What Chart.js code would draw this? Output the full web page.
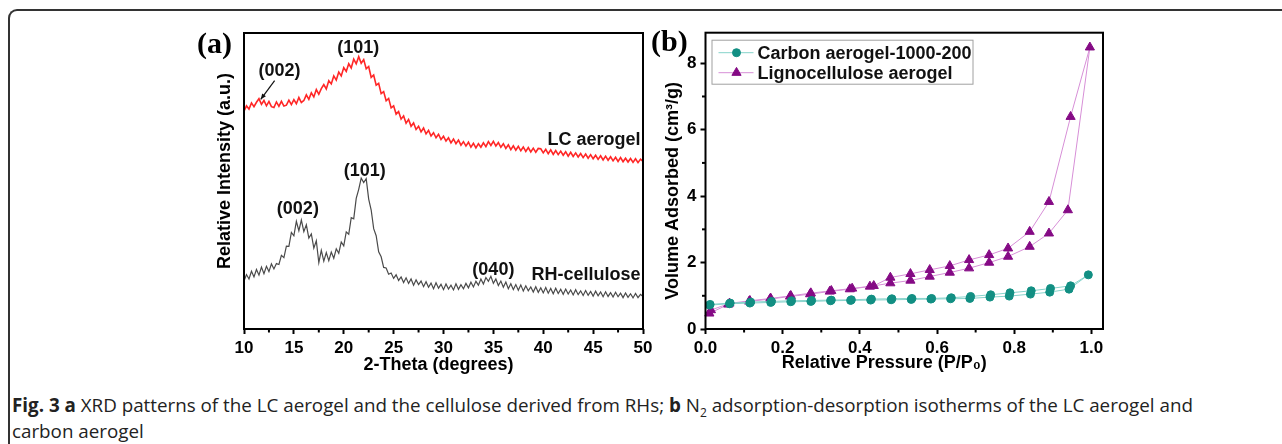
<!DOCTYPE html>
<html>
<head>
<meta charset="utf-8">
<script src="https://cdn.jsdelivr.net/npm/chart.js@4.4.1/dist/chart.umd.min.js"></script>
<style>
  html, body { margin: 0; padding: 0; background: #fff; }
  body { width: 1282px; height: 444px; position: relative; overflow: hidden; }
  #frame { position: absolute; left: 8px; top: 9px; width: 1300px; height: 500px;
           border-left: 2px solid #333; border-top: 2px solid #333; border-top-left-radius: 9px; }
  .panel { position: absolute; top: 0; width: 480px; height: 385px; }
  #wrapA { left: 180px; }
  #wrapB { left: 640px; }
  .tag { position: absolute; font-family: "Liberation Serif", "Times New Roman", serif;
         font-weight: bold; font-size: 30px; line-height: 30px; color: #000; }
  #caption { position: absolute; left: 12px; top: 392px; font-family: "Open Sans", sans-serif;
             font-size: 18.8px; line-height: 26px; color: #222; white-space: nowrap; }
  #caption sub { font-size: 12px; line-height: 0; }
</style>
</head>
<body>
<div id="frame"></div>
<div class="panel" id="wrapA"><canvas id="xrd"></canvas></div>
<div class="panel" id="wrapB"><canvas id="bet"></canvas></div>
<div class="tag" style="left:197px; top:28px;">(a)</div>
<div class="tag" style="left:651px; top:26px;">(b)</div>
<div id="caption"><b>Fig. 3 a</b> XRD patterns of the LC aerogel and the cellulose derived from RHs; <b>b</b> N<sub>2</sub> adsorption-desorption isotherms of the LC aerogel and<br>carbon aerogel</div>
<script>
//XRD patterns (a) - 2-theta in degrees, intensities in arbitrary units
const twoTheta = [10,10.25,10.5,10.75,11,11.25,11.5,11.75,12,12.25,12.5,12.75,13,13.25,13.5,13.75,14,14.25,14.5,14.75,15,15.25,15.5,15.75,16,16.25,16.5,16.75,17,17.25,17.5,17.75,18,18.25,18.5,18.75,19,19.25,19.5,19.75,20,20.25,20.5,20.75,21,21.25,21.5,21.75,22,22.25,22.5,22.75,23,23.25,23.5,23.75,24,24.25,24.5,24.75,25,25.25,25.5,25.75,26,26.25,26.5,26.75,27,27.25,27.5,27.75,28,28.25,28.5,28.75,29,29.25,29.5,29.75,30,30.25,30.5,30.75,31,31.25,31.5,31.75,32,32.25,32.5,32.75,33,33.25,33.5,33.75,34,34.25,34.5,34.75,35,35.25,35.5,35.75,36,36.25,36.5,36.75,37,37.25,37.5,37.75,38,38.25,38.5,38.75,39,39.25,39.5,39.75,40,40.25,40.5,40.75,41,41.25,41.5,41.75,42,42.25,42.5,42.75,43,43.25,43.5,43.75,44,44.25,44.5,44.75,45,45.25,45.5,45.75,46,46.25,46.5,46.75,47,47.25,47.5,47.75,48,48.25,48.5,48.75,49,49.25,49.5,49.75,50];
const lcAerogel = [
    73.6,75.4,74.3,76.4,75.1,76.6,77.8,75.9,77.2,75.4,76.9,75.1,
    74.8,76.7,75.2,76.9,75.3,75.6,77.3,75.8,77.5,76.1,78.2,76.5,
    77.2,79.1,77.6,79.8,78.4,80.9,79.3,81.2,82.6,81.1,83.9,82.8,
    85.5,84.1,86.8,85.5,88.3,87.0,89.6,88.2,91.2,89.6,92.0,89.8,
    91.0,87.9,88.7,85.0,85.8,82.4,83.0,79.5,80.2,77.1,77.9,74.7,
    75.4,72.6,73.5,70.9,72.0,69.5,70.8,68.5,69.6,67.4,68.5,66.6,
    67.9,65.9,67.1,65.2,66.3,64.6,65.8,64.0,65.1,63.5,64.6,62.9,
    64.2,62.6,63.8,62.1,63.3,61.8,63.1,61.4,62.7,61.2,62.6,61.4,
    62.9,61.6,63.3,62.0,63.4,61.8,63.0,61.4,62.6,61.0,62.2,60.6,
    61.9,60.4,61.7,60.2,61.5,60.0,61.3,59.8,61.1,59.7,61.0,60.9,
    59.5,60.7,59.2,60.5,59.0,60.3,58.9,60.1,58.7,59.9,58.4,59.7,
    58.3,59.5,58.1,59.3,57.9,59.1,57.7,58.9,57.5,58.7,57.3,58.5,
    57.1,58.4,57.0,58.2,56.8,58.0,56.6,57.9,56.5,57.7,56.4,57.6,
    56.3,57.5,56.2,57.4,56.6
];
const rhCellulose = [
    16.2,18.4,16.9,19.5,17.6,20.1,18.2,20.9,18.7,21.2,19.4,22.0,
    20.3,22.1,21.8,24.9,24.1,28.0,27.9,32.6,31.5,36.4,33.2,36.8,
    32.9,35.2,30.7,32.1,27.3,29.8,22.4,26.6,22.9,25.8,23.1,26.0,
    23.9,27.1,25.6,29.4,28.1,32.8,32.0,37.6,37.2,44.1,47.2,51.0,
    49.5,50.8,43.9,40.2,33.9,31.5,26.1,24.4,20.8,20.6,18.5,18.9,
    17.1,18.3,16.4,17.6,15.7,17.3,15.4,16.9,14.8,16.6,15.0,16.2,
    14.3,16.0,14.1,15.5,13.6,15.6,13.8,15.1,13.3,15.2,13.5,14.8,
    13.2,15.3,13.4,15.0,13.6,15.4,13.9,15.8,14.2,16.1,14.8,16.9,
    15.2,17.4,16.1,17.8,15.4,16.9,14.7,16.2,14.1,15.9,13.6,15.3,
    13.3,15.0,13.1,14.9,12.8,14.6,12.9,14.2,12.5,14.3,12.4,13.9,
    12.2,14.0,12.1,13.7,11.9,13.8,12.0,13.4,11.7,13.5,11.8,13.2,
    11.5,13.3,11.6,12.9,11.3,13.0,11.4,12.7,11.1,12.8,11.2,12.5,
    10.9,12.6,11.0,12.3,10.8,12.4,10.9,12.1,10.6,12.2,10.7,11.9,
    10.5,12.0,10.6,11.7,11.0
];
const xrdMinorTicks = [12.5, 17.5, 22.5, 27.5, 32.5, 37.5, 42.5, 47.5];

//N2 isotherms (b) - adsorption branch first, then desorption branch
const carbonPressure = [0.010,0.062,0.115,0.169,0.221,0.273,0.324,0.376,0.428,0.481,0.533,0.584,0.635,0.685,0.737,0.787,0.842,0.892,0.942,0.992,
                        0.946,0.894,0.844,0.789,0.739,0.687,0.637,0.586,0.535,0.483,0.430,0.378,0.326,0.275,0.223,0.171,0.117,0.064,0.012];
const carbonVolume = [0.72,0.76,0.78,0.80,0.82,0.83,0.85,0.86,0.87,0.88,0.89,0.90,0.91,0.92,0.96,0.99,1.05,1.11,1.20,1.63,
                      1.30,1.22,1.15,1.09,1.03,0.98,0.94,0.92,0.92,0.91,0.90,0.88,0.87,0.86,0.85,0.83,0.81,0.78,0.74];
const lignoPressure = [0.010,0.059,0.113,0.167,0.219,0.271,0.322,0.374,0.426,0.479,0.531,0.581,0.633,0.683,0.735,0.784,0.840,0.890,0.939,0.996,
                       0.946,0.890,0.840,0.784,0.735,0.683,0.633,0.581,0.531,0.479,0.436,0.380,0.326,0.273,0.221,0.169,0.115,0.062,0.014];
const lignoVolume = [0.47,0.74,0.83,0.90,0.98,1.05,1.13,1.20,1.28,1.38,1.46,1.58,1.70,1.83,2.00,2.18,2.48,2.88,3.58,8.48,
                     6.39,3.83,2.93,2.43,2.23,2.08,1.90,1.78,1.66,1.55,1.30,1.22,1.15,1.08,1.00,0.92,0.85,0.77,0.57];
const pressureTicks = [0, 0.2, 0.4, 0.6, 0.8, 1.0];
const pressureMinorTicks = [0.1, 0.3, 0.5, 0.7, 0.9];
const volumeTicks = [0, 2, 4, 6, 8];
const volumeMinorTicks = [1, 3, 5, 7];

//Peak and curve labels for (a), placed in data units
const xrdLabels = [
    {text: '(002)', x: 13.55, y: 87.0, align: 'center'},
    {text: '(101)', x: 21.45, y: 94.8, align: 'center'},
    {text: 'LC aerogel', x: 49.75, y: 63.7, align: 'right'},
    {text: '(101)', x: 22.1, y: 53.5, align: 'center'},
    {text: '(002)', x: 15.4, y: 40.4, align: 'center'},
    {text: '(040)', x: 35.0, y: 19.9, align: 'center'},
    {text: 'RH-cellulose', x: 49.75, y: 18.1, align: 'right'}
];

Chart.defaults.font.family = '"Liberation Sans", Arial, sans-serif';
Chart.defaults.font.weight = 'bold';
Chart.defaults.color = '#000';
Chart.defaults.animation = false;

const tickFont = {size: 17, weight: 'bold'};
const titleFont = {size: 18, weight: 'bold'};
const nb = '\u00a0';

//Draws the closed box round the plot area plus the short minor ticks
const framePlugin = {
    id: 'frame',
    afterDraw(chart, args, opts) {
        const {ctx, chartArea: a, scales} = chart;
        ctx.save();
        ctx.strokeStyle = '#000';
        ctx.lineWidth = 2;
        ctx.strokeRect(a.left, a.top, a.right - a.left, a.bottom - a.top);
        (opts.xMinor || []).forEach(v => {
            const px = scales.x.getPixelForValue(v);
            ctx.beginPath(); ctx.moveTo(px, a.bottom); ctx.lineTo(px, a.bottom + 3.5); ctx.stroke();
        });
        (opts.yMinor || []).forEach(v => {
            const py = scales.y.getPixelForValue(v);
            ctx.beginPath(); ctx.moveTo(a.left, py); ctx.lineTo(a.left - 3.5, py); ctx.stroke();
        });
        ctx.restore();
    }
};

//Peak labels and the little arrow for (a)
const labelPlugin = {
    id: 'xrdLabels',
    afterDatasetsDraw(chart) {
        const {ctx, scales: {x, y}} = chart;
        ctx.save();
        ctx.fillStyle = '#111';
        ctx.font = 'bold 18px "Liberation Sans", Arial, sans-serif';
        ctx.textBaseline = 'middle';
        xrdLabels.forEach(l => {
            ctx.textAlign = l.align;
            ctx.fillText(l.text, x.getPixelForValue(l.x), y.getPixelForValue(l.y));
        });
        const x1 = x.getPixelForValue(13.07), y1 = y.getPixelForValue(83.9);
        const x2 = x.getPixelForValue(11.68), y2 = y.getPixelForValue(77.6);
        ctx.strokeStyle = '#111';
        ctx.lineWidth = 1.2;
        ctx.beginPath(); ctx.moveTo(x1, y1); ctx.lineTo(x2, y2); ctx.stroke();
        const ang = Math.atan2(y2 - y1, x2 - x1);
        ctx.beginPath();
        ctx.moveTo(x2, y2);
        ctx.lineTo(x2 - 6 * Math.cos(ang - 0.4), y2 - 6 * Math.sin(ang - 0.4));
        ctx.lineTo(x2 - 6 * Math.cos(ang + 0.4), y2 - 6 * Math.sin(ang + 0.4));
        ctx.closePath(); ctx.fill();
        ctx.restore();
    }
};

//Boxed legend inside the plot of (b)
const legendPlugin = {
    id: 'boxLegend',
    afterDraw(chart) {
        const {ctx, chartArea: a} = chart;
        const x0 = a.left + 6, y0 = a.top + 7;
        ctx.save();
        ctx.fillStyle = '#fff';
        ctx.fillRect(x0, y0, 261, 44);
        ctx.strokeStyle = '#a0a0a0';
        ctx.lineWidth = 1;
        ctx.strokeRect(x0 + 0.5, y0 + 0.5, 261, 44);
        chart.data.datasets.forEach((ds, i) => {
            const yy = y0 + 13 + i * 20;
            ctx.strokeStyle = ds.borderColor;
            ctx.lineWidth = 1;
            ctx.beginPath(); ctx.moveTo(x0 + 7, yy); ctx.lineTo(x0 + 42, yy); ctx.stroke();
            ctx.fillStyle = ds.pointBackgroundColor;
            ctx.strokeStyle = ds.pointBorderColor;
            Chart.helpers.drawPoint(ctx, {pointStyle: ds.pointStyle, radius: ds.pointRadius, rotation: 0, borderWidth: 1}, x0 + 25, yy);
            ctx.fillStyle = '#111';
            ctx.font = 'bold 18px "Liberation Sans", Arial, sans-serif';
            ctx.textAlign = 'left';
            ctx.textBaseline = 'middle';
            ctx.fillText(ds.label, x0 + 46, yy + 1);
        });
        ctx.restore();
    }
};

function axisTitle(text, padding) {
    return {display: true, text: text, font: titleFont, color: '#000', padding: padding};
}

new Chart(document.getElementById('xrd').getContext('2d'), {
    type: 'scatter',
    data: {
        datasets: [
            {label: 'LC aerogel', data: twoTheta.map((t, i) => ({x: t, y: lcAerogel[i]})),
             showLine: true, borderColor: '#ff2626', borderWidth: 1.6, pointRadius: 0, tension: 0},
            {label: 'RH-cellulose', data: twoTheta.map((t, i) => ({x: t, y: rhCellulose[i]})),
             showLine: true, borderColor: '#4a4a4a', borderWidth: 1.2, pointRadius: 0, tension: 0}
        ]
    },
    options: {
        responsive: true,
        maintainAspectRatio: false,
        layout: {padding: {left: 0, right: 17, top: 33, bottom: 0}},
        plugins: {legend: {display: false}, tooltip: {enabled: false}, frame: {xMinor: xrdMinorTicks}},
        scales: {
            x: {
                type: 'linear', min: 10, max: 50,
                ticks: {stepSize: 5, padding: 4, font: tickFont, color: '#000', maxRotation: 0},
                grid: {drawOnChartArea: false, tickLength: 5, tickWidth: 2, tickColor: '#000'},
                border: {display: false},
                title: axisTitle('2-Theta (degrees)' + nb.repeat(2), {top: 0, bottom: 9}),
                afterFit(s) { s.height = 56; }
            },
            y: {
                min: 0, max: 100,
                ticks: {display: false},
                grid: {display: false},
                border: {display: false},
                title: axisTitle(nb.repeat(4) + 'Relative Intensity (a.u.)', {top: 34, bottom: 0}),
                afterFit(s) { s.width = 64; }
            }
        }
    },
    plugins: [framePlugin, labelPlugin]
});

new Chart(document.getElementById('bet').getContext('2d'), {
    type: 'scatter',
    data: {
        datasets: [
            {label: 'Carbon aerogel-1000-200', data: carbonPressure.map((p, i) => ({x: p, y: carbonVolume[i]})),
             showLine: true, borderColor: '#86d3cb', borderWidth: 1, pointStyle: 'circle', pointRadius: 4,
             pointBackgroundColor: '#128f83', pointBorderColor: '#128f83', clip: false},
            {label: 'Lignocellulose aerogel', data: lignoPressure.map((p, i) => ({x: p, y: lignoVolume[i]})),
             showLine: true, borderColor: '#d78fd7', borderWidth: 1, pointStyle: 'triangle', pointRadius: 5.3,
             pointBackgroundColor: '#850a85', pointBorderColor: '#850a85', clip: false}
        ]
    },
    options: {
        responsive: true,
        maintainAspectRatio: false,
        layout: {padding: {left: 0, right: 17, top: 32.7, bottom: 0}},
        plugins: {legend: {display: false}, tooltip: {enabled: false},
                  frame: {xMinor: pressureMinorTicks, yMinor: volumeMinorTicks}},
        scales: {
            x: {
                type: 'linear', min: 0, max: 1.03,
                afterBuildTicks(s) { s.ticks = pressureTicks.map(v => ({value: v})); },
                ticks: {padding: 4, font: tickFont, color: '#000', maxRotation: 0, callback: v => v.toFixed(1)},
                grid: {drawOnChartArea: false, tickLength: 5, tickWidth: 2, tickColor: '#000'},
                border: {display: false},
                title: axisTitle('Relative Pressure (P/P\u2080)' + nb.repeat(8), {top: 0, bottom: 11}),
                afterFit(s) { s.height = 56; }
            },
            y: {
                min: 0, max: 8.92,
                afterBuildTicks(s) { s.ticks = volumeTicks.map(v => ({value: v})); },
                ticks: {padding: 4, font: tickFont, color: '#000', callback: v => String(v)},
                grid: {drawOnChartArea: false, tickLength: 5, tickWidth: 2, tickColor: '#000'},
                border: {display: false},
                title: axisTitle('Volume Adsorbed (cm\u00b3/g)' + nb.repeat(4), {top: 22, bottom: 0}),
                afterFit(s) { s.width = 65.5; }
            }
        }
    },
    plugins: [framePlugin, legendPlugin]
});
</script>
</body>
</html>
